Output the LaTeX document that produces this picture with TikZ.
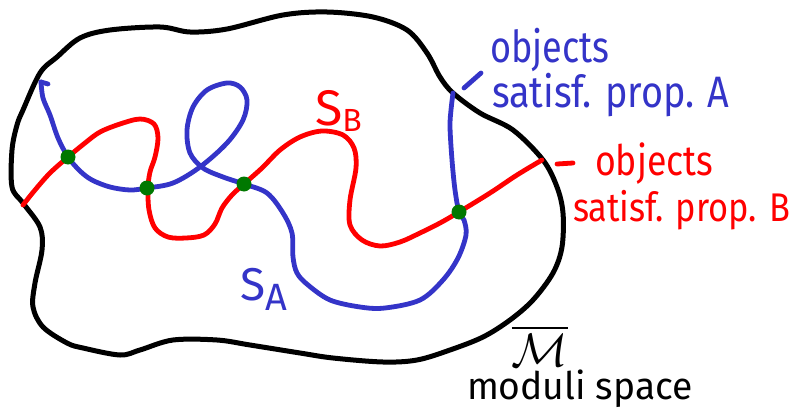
\documentclass[tikz,border=0pt]{standalone}
\usepackage{fontspec}
\setmainfont{Fira Sans}
\definecolor{pblue}{RGB}{52,52,200}
\definecolor{pgreen}{RGB}{0,120,0}
\tikzset{
  outline/.style={line width=5pt, black, line join=round, line cap=round},
  curveA/.style={line width=4.8pt, pblue, line join=round, line cap=round},
  curveB/.style={line width=4.8pt, red, line join=round, line cap=round},
  crossdot/.style={circle, fill=pgreen, minimum size=15pt, inner sep=0pt},
  lab/.style={anchor=base west, inner sep=0pt, outer sep=0pt},
}
\begin{document}
\begin{tikzpicture}[x=1pt,y=-1pt]
\useasboundingbox (0,0) rectangle (797,412);
% moduli space outline
\draw[outline] plot[smooth cycle, tension=0.55] coordinates {
  (23,110) (40,73) (57,57) (80,38) (110,30) (160,27) (190,32) (227,29)
  (283,15) (327,12) (373,17) (407,30) (427,53) (440,77) (453,93) (480,113)
  (513,130) (543,160) (557,187) (563,213) (562,247) (553,273) (533,300)
  (510,320) (483,337) (450,350) (417,360) (383,362) (333,358) (300,353)
  (250,345) (217,340) (173,340) (140,350) (120,355) (83,348) (67,343)
  (43,327) (33,307) (35,283) (42,250) (40,227) (23,203) (12,187) (12,150) (17,125)};
% S_B
\draw[curveB] plot[smooth, tension=0.55] coordinates {
  (23,205) (35,190) (50,173) (68,157) (85,143) (100,132) (120,124) (140,119)
  (154,124) (158,138) (155,157) (150,172) (148,188) (149,210) (155,228)
  (168,237) (186,238) (204,235) (215,224) (222,208) (232,195) (244,184)
  (262,168) (280,150) (300,137) (322,131) (343,135) (354,148) (356,168)
  (350,200) (350,225) (362,240) (380,246) (400,242) (420,233) (440,223)
  (459,212) (490,193) (517,175) (542,160)};
% S_A
\draw[curveA] plot[smooth, tension=0.55] coordinates {
  (41,82) (43,98) (50,115) (58,138) (68,157) (80,171) (92,180) (110,187)
  (130,190) (147,188) (173,183) (200,167) (227,143) (243,120) (247,100)
  (240,87) (227,83) (207,90) (193,107) (187,130) (190,153) (203,168)
  (223,177) (244,184) (267,193) (283,213) (292,233) (293,257) (297,273)
  (308,285) (330,300) (360,307) (385,308) (420,300) (443,280) (458,258)
  (466,235) (464,220) (459,212) (455,190) (452,160) (450,127) (451,110) (453,93)};
\draw[curveA] (41,82) -- (48,84);
% label ticks
\coordinate (ta1) at (464,88); \coordinate (ta2) at (481,73);
\draw[curveA] (ta1) -- (ta2);
\coordinate (tb1) at (557,164); \coordinate (tb2) at (573,163);
\draw[curveB] (tb1) -- (tb2);
% intersection points
\node[crossdot] (p1) at (68,157) {};
\node[crossdot] (p2) at (147,188) {};
\node[crossdot] (p3) at (244,184) {};
\node[crossdot] (p4) at (459,212) {};
% labels
\node[lab, text=red] (sb) at (315,125) {\fontsize{50}{50}\selectfont S\raisebox{-6pt}{\fontsize{32}{32}\selectfont B}};
\node[lab, text=pblue] (sa) at (240,300) {\fontsize{46}{46}\selectfont S\raisebox{-10pt}{\fontsize{38}{38}\selectfont A}};
\node[lab, text=pblue] (oa1) at (490,63) {\fontsize{44}{44}\selectfont\scalebox{0.82}[1]{objects}};
\node[lab, text=pblue] (oa2) at (492,107) {\fontsize{44}{44}\selectfont\scalebox{0.86}[1]{satisf. prop. A}};
\node[lab, text=red] (ob1) at (595,175) {\fontsize{42}{42}\selectfont\scalebox{0.85}[1]{objects}};
\node[lab, text=red] (ob2) at (573,221) {\fontsize{40}{40}\selectfont\scalebox{0.86}[1]{satisf. prop. B}};
\node[inner sep=0pt] (mbar) at (540,346) {\scalebox{4.7}{$\overline{\mathcal{M}}$}};
\node[lab] (ms) at (467,399) {\fontsize{38}{38}\selectfont\scalebox{0.98}[1]{moduli space}};
\end{tikzpicture}
\end{document}
